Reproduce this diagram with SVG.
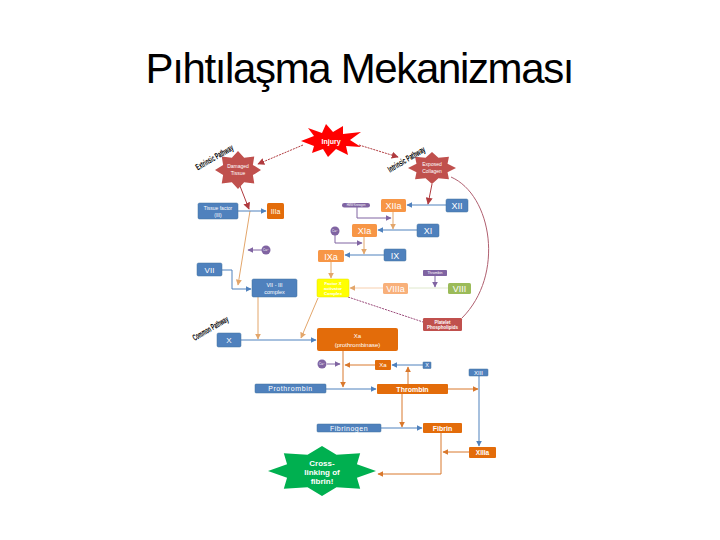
<svg xmlns="http://www.w3.org/2000/svg" width="720" height="540" viewBox="0 0 720 540">
<style>
text{font-family:"Liberation Sans",Arial,sans-serif;text-anchor:middle;fill:#fff}
.t{font-size:42px;fill:#000;text-anchor:middle}
.lbl{font-size:9px;font-weight:bold;fill:#000}
.b{fill:#4f81bd;stroke:#41709f;stroke-width:0.5}
.o{fill:#e36c0a}
.lo{fill:#f79646}
.p{fill:#8064a2}
.ln{fill:none;stroke-width:1}
.bl{stroke:#4f81bd}
.or{stroke:#e3a66b}
.do{stroke:#d9782c}
.pu{stroke:#8064a2}
.dr{stroke:#b03a3e}
</style>
<defs>
<polygon id="star8" points="0,-1 0.268,-0.647 0.707,-0.707 0.647,-0.268 1,0 0.647,0.268 0.707,0.707 0.268,0.647 0,1 -0.268,0.647 -0.707,0.707 -0.647,0.268 -1,0 -0.647,-0.268 -0.707,-0.707 -0.268,-0.647"/>
<marker id="mb" viewBox="0 0 10 10" refX="9" refY="5" markerWidth="6" markerHeight="6" markerUnits="userSpaceOnUse" orient="auto"><path d="M0,0 L10,5 L0,10 z" fill="#4f81bd"/></marker>
<marker id="mo" viewBox="0 0 10 10" refX="9" refY="5" markerWidth="6" markerHeight="6" markerUnits="userSpaceOnUse" orient="auto"><path d="M0,0 L10,5 L0,10 z" fill="#e3a66b"/></marker>
<marker id="mdo" viewBox="0 0 10 10" refX="9" refY="5" markerWidth="6" markerHeight="6" markerUnits="userSpaceOnUse" orient="auto"><path d="M0,0 L10,5 L0,10 z" fill="#d9782c"/></marker>
<marker id="mp" viewBox="0 0 10 10" refX="9" refY="5" markerWidth="6" markerHeight="6" markerUnits="userSpaceOnUse" orient="auto"><path d="M0,0 L10,5 L0,10 z" fill="#8064a2"/></marker>
<marker id="mr" viewBox="0 0 10 10" refX="9" refY="5" markerWidth="7" markerHeight="7" markerUnits="userSpaceOnUse" orient="auto"><path d="M0,0 L10,5 L0,10 z" fill="#b03a3e"/></marker>
</defs>
<rect width="720" height="540" fill="#fff"/>
<text class="t" x="360" y="83" textLength="429">Pıhtılaşma Mekanizması</text>

<g id="connectors">
<line class="ln dr" x1="303" y1="145" x2="258" y2="164" stroke-dasharray="2,1" marker-end="url(#mr)"/>
<line class="ln dr" x1="359" y1="145" x2="398" y2="157" stroke-dasharray="2,1" marker-end="url(#mr)"/>
<line class="ln dr" x1="240" y1="186" x2="249" y2="209" marker-end="url(#mr)"/>
<line class="ln or" x1="250" y1="211" x2="238" y2="285" marker-end="url(#mo)"/>
<line class="ln bl" x1="238" y1="211" x2="266" y2="211" marker-end="url(#mb)"/>
<line class="ln pu" x1="262" y1="250" x2="248" y2="250" marker-end="url(#mp)"/>
<polyline class="ln bl" points="222,270 232,270 232,289 251,289" marker-end="url(#mb)"/>
<line class="ln or" x1="258" y1="297" x2="258" y2="339" marker-end="url(#mo)"/>
<line class="ln or" x1="318" y1="298" x2="301" y2="338" marker-end="url(#mo)"/>
<line class="ln bl" x1="241" y1="340" x2="316" y2="340" marker-end="url(#mb)"/>
<line class="ln bl" x1="446" y1="205" x2="407" y2="205" marker-end="url(#mb)"/>
<line class="ln dr" x1="432" y1="184" x2="428" y2="204" marker-end="url(#mr)"/>
<polyline class="ln pu" points="357,207 357,218 391,218" marker-end="url(#mp)"/>
<line class="ln or" x1="393" y1="212" x2="393" y2="229" marker-end="url(#mo)"/>
<line class="ln bl" x1="417" y1="230" x2="378" y2="230" marker-end="url(#mb)"/>
<polyline class="ln pu" points="335,235 335,243 362,243" marker-end="url(#mp)"/>
<line class="ln or" x1="364" y1="237" x2="364" y2="254" marker-end="url(#mo)"/>
<line class="ln bl" x1="384" y1="255" x2="345" y2="255" marker-end="url(#mb)"/>
<line class="ln or" x1="331" y1="262" x2="331" y2="278" marker-end="url(#mo)"/>
<line class="ln" stroke="#f7cfae" x1="383" y1="288" x2="350" y2="288" marker-end="url(#mo)"/>
<line class="ln" stroke="#dfe8cc" x1="448" y1="288" x2="409" y2="288"/>
<line class="ln pu" x1="435" y1="276" x2="435" y2="287" marker-end="url(#mp)"/>
<line class="ln" stroke="#9a4a7a" stroke-width="0.7" stroke-dasharray="2,1" x1="348" y1="297" x2="423" y2="322"/>
<path class="ln" stroke="#b06070" stroke-width="0.6" d="M451,177 C492,195 505,275 462,318"/>
<line class="ln pu" x1="327" y1="364" x2="340" y2="364" marker-end="url(#mp)"/>
<line class="ln bl" x1="423" y1="365" x2="392" y2="365" marker-end="url(#mb)"/>
<line class="ln do" x1="375" y1="365" x2="345" y2="365" marker-end="url(#mdo)"/>
<line class="ln do" x1="343" y1="351" x2="343" y2="387" marker-end="url(#mdo)"/>
<line class="ln bl" x1="326" y1="389" x2="376" y2="389" marker-end="url(#mb)"/>
<line class="ln do" x1="408" y1="384" x2="408" y2="367" marker-end="url(#mdo)"/>
<line class="ln do" x1="448" y1="389" x2="478" y2="389" marker-end="url(#mdo)"/>
<line class="ln bl" x1="479" y1="376" x2="479" y2="446" marker-end="url(#mb)"/>
<line class="ln do" x1="402" y1="394" x2="402" y2="427" marker-end="url(#mdo)"/>
<line class="ln bl" x1="381" y1="428" x2="422" y2="428" marker-end="url(#mb)"/>
<polyline class="ln do" points="441,433 441,474 378,474" marker-end="url(#mdo)"/>
<line class="ln do" x1="469" y1="452" x2="443" y2="452" marker-end="url(#mdo)"/>
</g>

<g id="injury">
<polygon fill="#ff0000" points="301,141 314,136 308,128 322,133 326,124 333,132 343,126 343,134 361,132 350,140 361,147 346,146 348,155 336,149 328,157 323,149 312,153 314,146"/>
<text x="331" y="143.5" font-size="7" font-weight="bold">Injury</text>
</g>
<g id="damaged-tissue">
<use href="#star8" transform="translate(238,170) scale(23,19)" fill="#c0504d"/>
<text x="238" y="168" font-size="5">Damaged</text>
<text x="238" y="174.5" font-size="5">Tissue</text>
</g>
<g id="exposed-collagen">
<use href="#star8" transform="translate(432,168) scale(24,16)" fill="#c0504d"/>
<text x="432" y="166" font-size="5">Exposed</text>
<text x="432" y="172.5" font-size="5">Collagen</text>
</g>
<g id="labels">
<text class="lbl" transform="translate(216,160) rotate(-30)" textLength="42" lengthAdjust="spacingAndGlyphs">Extrinsic Pathway</text>
<text class="lbl" transform="translate(408,162) rotate(-31)" textLength="42" lengthAdjust="spacingAndGlyphs">Intrinsic Pathway</text>
<text class="lbl" transform="translate(212,331) rotate(-30)" textLength="40" lengthAdjust="spacingAndGlyphs">Common Pathway</text>
</g>
<g id="tissue-factor"><rect class="b" x="198" y="203" width="40" height="16" rx="1.5"/><text x="218" y="210" font-size="5">Tissue factor</text><text x="218" y="216.5" font-size="5">(III)</text></g>
<g id="IIIa"><rect class="o" x="267" y="203" width="17" height="16" rx="1.5"/><text x="275.5" y="213.5" font-size="7">IIIa</text></g>
<g id="ca1"><circle class="p" cx="266" cy="250" r="4.5"/><text x="266" y="251" font-size="3">Ca²⁺</text></g>
<g id="VII"><rect class="b" x="197" y="263" width="25" height="13" rx="1.5"/><text x="209.5" y="272.5" font-size="8">VII</text></g>
<g id="VII-III"><rect class="b" x="252" y="279" width="45" height="18" rx="1.5"/><text x="274.5" y="287" font-size="5.5">VII - III</text><text x="274.5" y="294" font-size="5.5">complex</text></g>
<g id="X"><rect class="b" x="217" y="333" width="24" height="14" rx="1.5"/><text x="229" y="343" font-size="8">X</text></g>
<g id="pill"><rect class="p" x="342" y="203" width="28" height="4.5" rx="2.2"/><text x="356" y="206.2" font-size="2.6">HMW Kininogen</text></g>
<g id="XIIa"><rect class="lo" x="381" y="199" width="25" height="13" rx="1.5"/><text x="393.5" y="209" font-size="9">XIIa</text></g>
<g id="XII"><rect class="b" x="446" y="199" width="22" height="13" rx="1.5"/><text x="457" y="209" font-size="9">XII</text></g>
<g id="ca2"><circle class="p" cx="335" cy="231" r="4.5"/><text x="335" y="232" font-size="3">Ca²⁺</text></g>
<g id="XIa"><rect class="lo" x="352" y="224" width="25" height="13" rx="1.5"/><text x="364.5" y="234" font-size="9">XIa</text></g>
<g id="XI"><rect class="b" x="417" y="224" width="22" height="13" rx="1.5"/><text x="428" y="234" font-size="9">XI</text></g>
<g id="IXa"><rect class="lo" x="318" y="250" width="26" height="12" rx="1.5"/><text x="331" y="259.5" font-size="9">IXa</text></g>
<g id="IX"><rect class="b" x="384" y="249" width="22" height="12" rx="1.5"/><text x="395" y="258.5" font-size="9">IX</text></g>
<g id="thrombin-small"><rect class="p" x="423" y="270" width="24" height="6" rx="0.8"/><text x="435" y="274.3" font-size="3.6">Thrombin</text></g>
<g id="factor-x-complex"><rect fill="#ffff00" stroke="#e0e000" stroke-width="0.5" x="317" y="279" width="32" height="18" rx="1.5"/><text x="333" y="284.5" font-size="4.3" font-weight="bold" fill="#333">Factor X</text><text x="333" y="289.5" font-size="4.3" font-weight="bold" fill="#333">activator</text><text x="333" y="294.5" font-size="4.3" font-weight="bold" fill="#333">Complex</text></g>
<g id="VIIIa"><rect fill="#f8b07a" x="383" y="283" width="25" height="11" rx="1.5"/><text x="395.5" y="291.8" font-size="9">VIIIa</text></g>
<g id="VIII"><rect fill="#9bbb59" x="448" y="283" width="23" height="11" rx="1.5"/><text x="459.5" y="291.8" font-size="9">VIII</text></g>
<g id="platelet"><rect fill="#c0504d" x="423" y="318" width="39" height="13" rx="1.2"/><text x="442.5" y="323.8" font-size="4.5" font-weight="bold">Platelet</text><text x="442.5" y="329" font-size="4.5" font-weight="bold">Phospholipids</text></g>
<g id="Xa-prothrombinase"><rect class="o" x="317" y="328" width="81" height="23" rx="2"/><text x="357.5" y="338" font-size="6">Xa</text><text x="357.5" y="346.5" font-size="6">(prothrombinase)</text></g>
<g id="ca3"><circle class="p" cx="322" cy="364" r="4.5"/><text x="322" y="365" font-size="3">Ca²⁺</text></g>
<g id="Xa-small"><rect class="o" x="375" y="360" width="16" height="10" rx="1"/><text x="383" y="367.3" font-size="6">Xa</text></g>
<g id="X-small"><rect class="b" x="423" y="362" width="8" height="6.5" rx="0.5"/><text x="427" y="367.3" font-size="5.5">X</text></g>
<g id="XIII"><rect class="b" x="469" y="369" width="19" height="7" rx="0.8"/><text x="478.5" y="375" font-size="6">XIII</text></g>
<g id="prothrombin"><rect class="b" x="255" y="384" width="71" height="9" rx="1"/><text x="290.5" y="391.3" font-size="7" letter-spacing="0.6">Prothrombin</text></g>
<g id="thrombin"><rect class="o" x="377" y="384" width="71" height="10" rx="1"/><text x="412.5" y="391.7" font-size="7" font-weight="bold">Thrombin</text></g>
<g id="fibrinogen"><rect class="b" x="317" y="424" width="64" height="8" rx="1"/><text x="349" y="430.7" font-size="7" letter-spacing="0.5">Fibrinogen</text></g>
<g id="fibrin"><rect class="o" x="423" y="423" width="39" height="10" rx="1"/><text x="442.5" y="430.7" font-size="7" font-weight="bold">Fibrin</text></g>
<g id="XIIIa"><rect class="o" x="469" y="447" width="27" height="11" rx="1"/><text x="482.5" y="454.7" font-size="6.5" font-weight="bold">XIIIa</text></g>
<g id="crosslinking">
<use href="#star8" transform="translate(322,471) scale(54,25)" fill="#00b050"/>
<text x="322" y="466" font-size="8" font-weight="bold">Cross-</text>
<text x="322" y="475" font-size="8" font-weight="bold">linking of</text>
<text x="322" y="484" font-size="8" font-weight="bold">fibrin!</text>
</g>
</svg>
